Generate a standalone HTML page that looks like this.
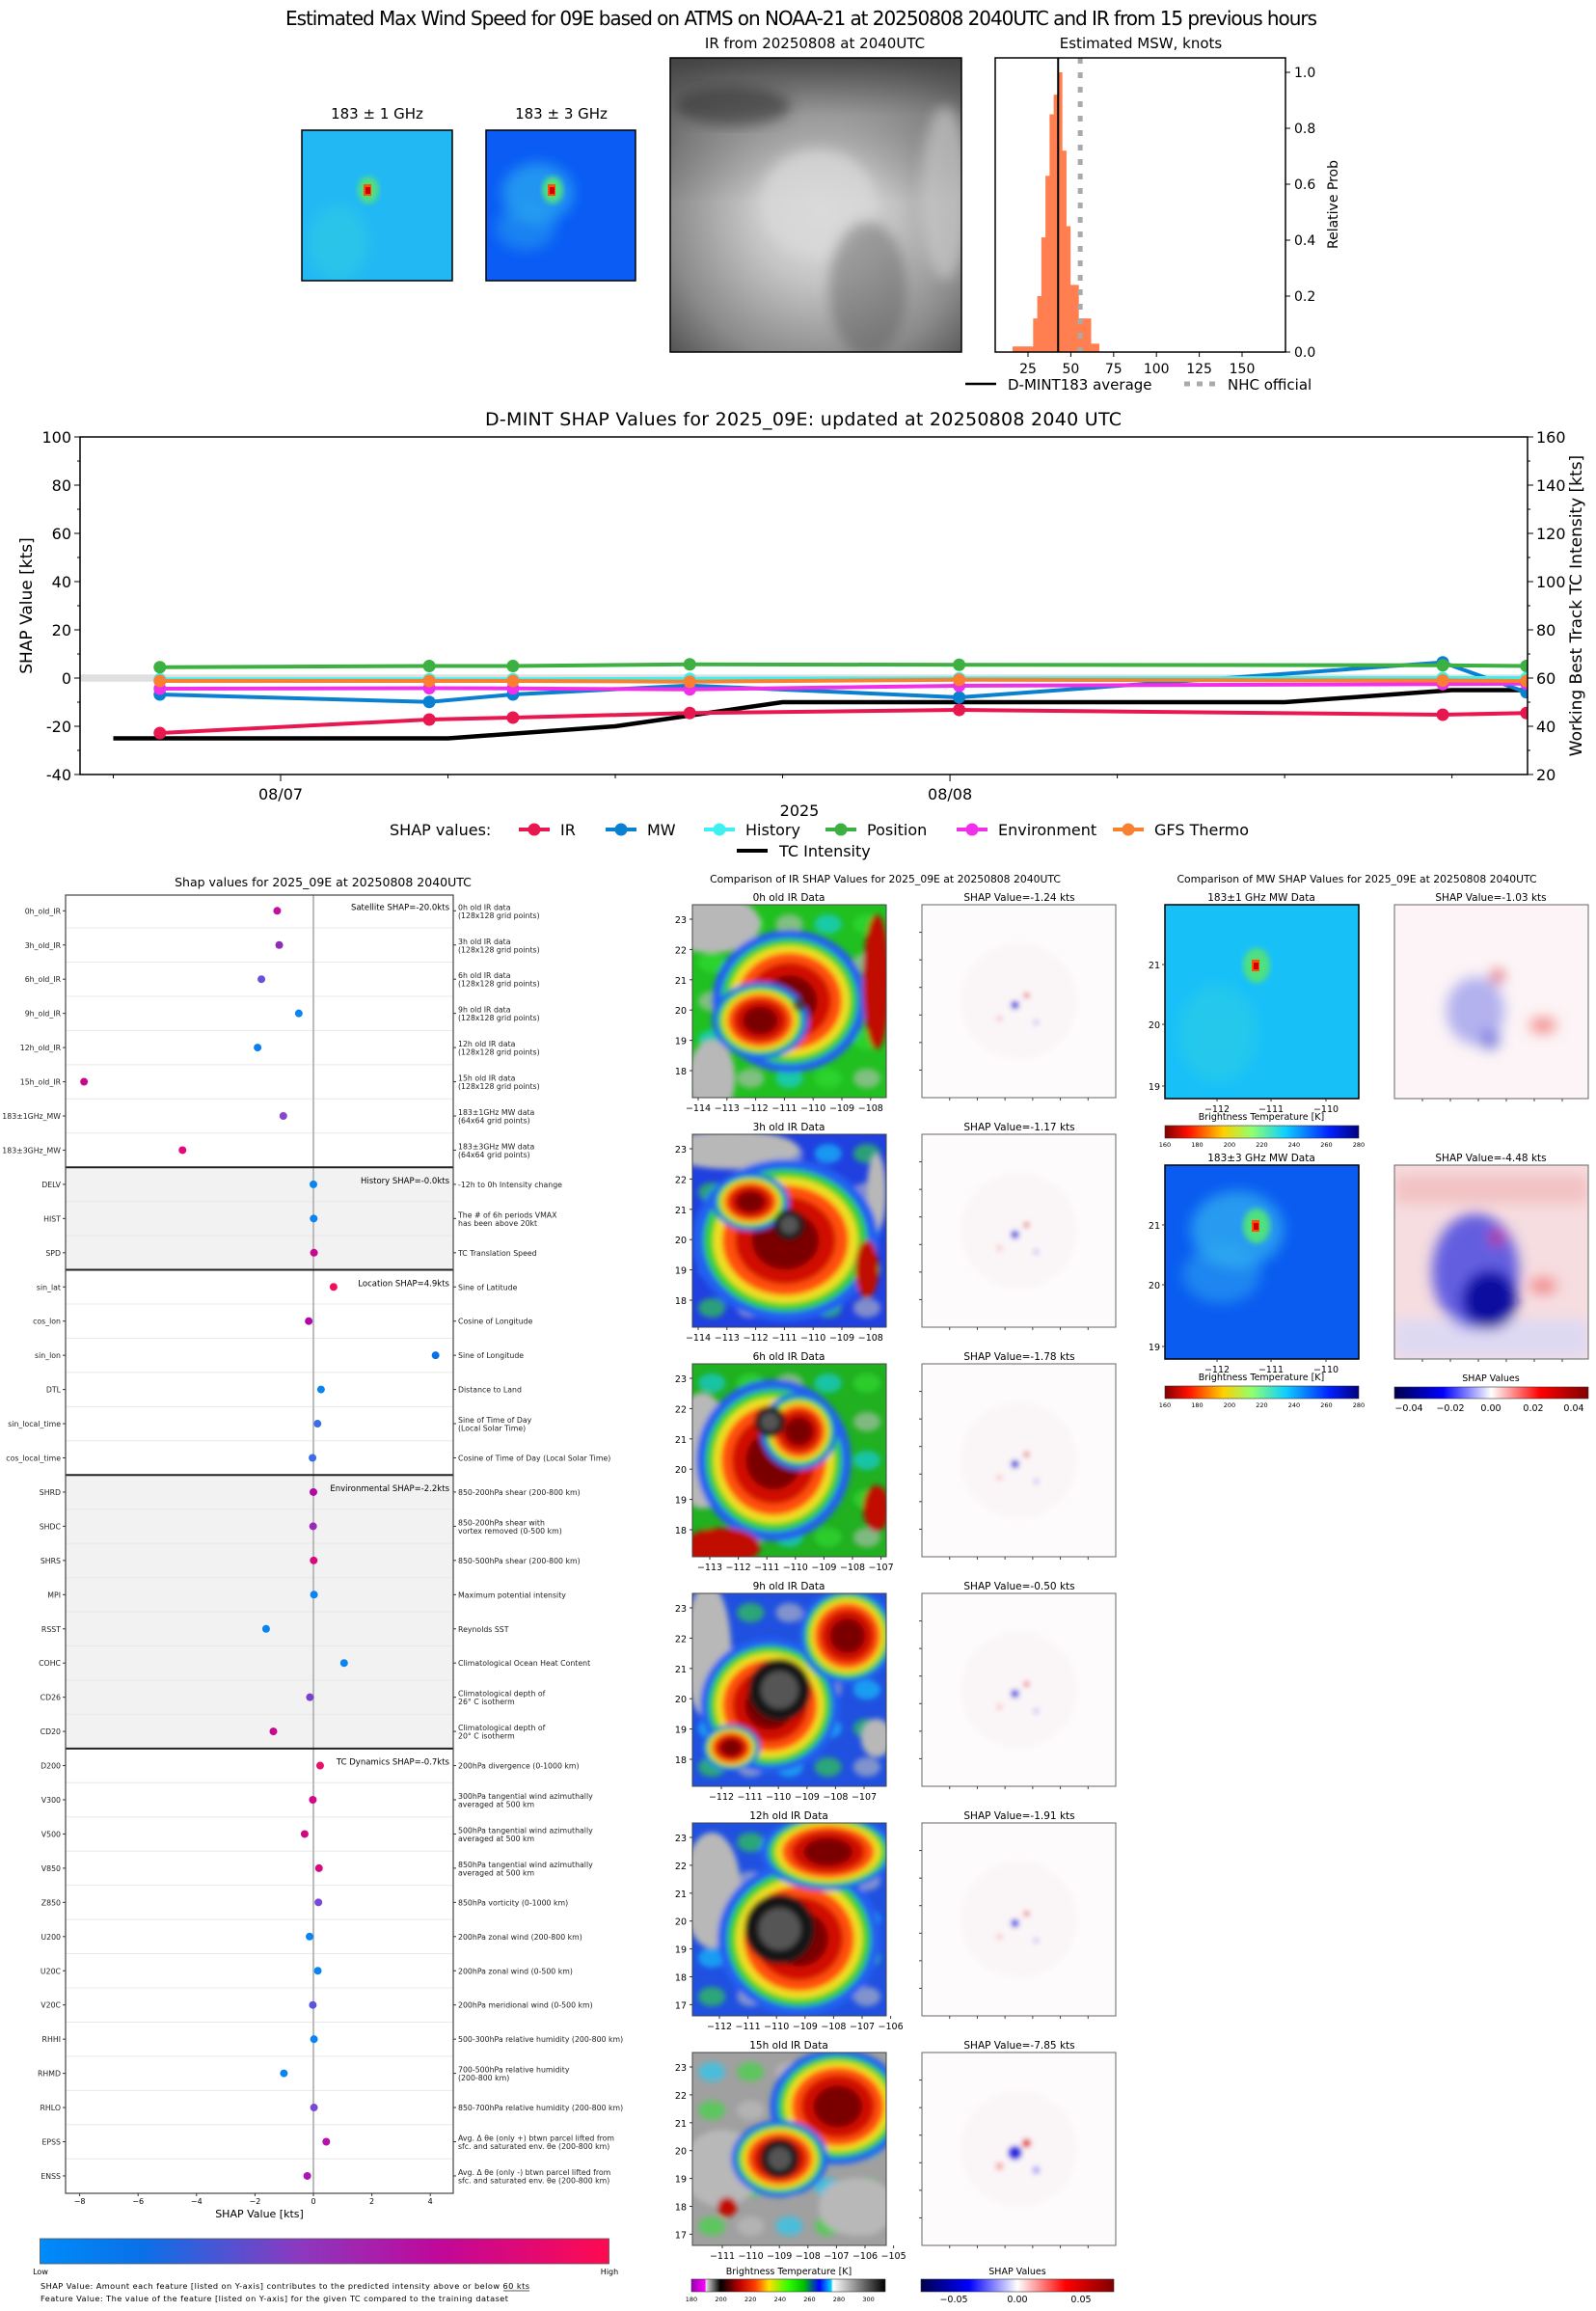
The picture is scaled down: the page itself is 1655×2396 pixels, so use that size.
<!DOCTYPE html>
<html><head><meta charset="utf-8"><style>
html,body{margin:0;padding:0;background:#fff}
svg{display:block;font-family:"DejaVu Sans","Liberation Sans",sans-serif}
</style></head><body>
<svg id="s" width="1655" height="2396" viewBox="0 0 1655 2396" xmlns="http://www.w3.org/2000/svg">
<defs>
<filter id="blur3" x="-10%" y="-10%" width="120%" height="120%"><feGaussianBlur stdDeviation="3"/></filter>
<filter id="blur6" x="-20%" y="-20%" width="140%" height="140%"><feGaussianBlur stdDeviation="7"/></filter>
<radialGradient id="irgray" cx="0.52" cy="0.52" r="0.7"><stop offset="0" stop-color="#e6e6e6"/><stop offset="0.35" stop-color="#c4c4c4"/><stop offset="0.75" stop-color="#8a8a8a"/><stop offset="1" stop-color="#555"/></radialGradient>
<linearGradient id="irtop" x1="0" y1="0" x2="0" y2="1"><stop offset="0" stop-color="#404040" stop-opacity="0.9"/><stop offset="0.4" stop-color="#606060" stop-opacity="0.3"/><stop offset="1" stop-color="#000" stop-opacity="0"/></linearGradient>
<linearGradient id="cbShap" x1="0" x2="1"><stop offset="0" stop-color="#008bfa"/><stop offset="0.18" stop-color="#0a70e8"/><stop offset="0.45" stop-color="#8a3ac0"/><stop offset="0.7" stop-color="#c0089a"/><stop offset="1" stop-color="#ff0a50"/></linearGradient>
<linearGradient id="cbJet" x1="0" x2="1"><stop offset="0" stop-color="#800000"/><stop offset="0.12" stop-color="#ff1000"/><stop offset="0.3" stop-color="#ffd000"/><stop offset="0.45" stop-color="#90ff70"/><stop offset="0.62" stop-color="#10d0ff"/><stop offset="0.85" stop-color="#0020ff"/><stop offset="1" stop-color="#00007f"/></linearGradient>
<linearGradient id="cbSeis" x1="0" x2="1"><stop offset="0" stop-color="#00004c"/><stop offset="0.25" stop-color="#0000ff"/><stop offset="0.5" stop-color="#ffffff"/><stop offset="0.75" stop-color="#ff0000"/><stop offset="1" stop-color="#800000"/></linearGradient>
<linearGradient id="cbIR" x1="0" x2="1"><stop offset="0" stop-color="#9a00b0"/><stop offset="0.07" stop-color="#ff00ff"/><stop offset="0.075" stop-color="#e0e0e0"/><stop offset="0.15" stop-color="#000"/><stop offset="0.25" stop-color="#c00000"/><stop offset="0.33" stop-color="#ff4000"/><stop offset="0.4" stop-color="#ffe000"/><stop offset="0.5" stop-color="#30ff00"/><stop offset="0.58" stop-color="#00c000"/><stop offset="0.66" stop-color="#0000ff"/><stop offset="0.72" stop-color="#00d0ff"/><stop offset="0.73" stop-color="#ffffff"/><stop offset="1" stop-color="#000"/></linearGradient>
</defs>
</svg>
<script>
const S=document.getElementById('s');
const NS='http://www.w3.org/2000/svg';
function mk(tag,at,par){const e=document.createElementNS(NS,tag);for(const k in at)e.setAttribute(k,at[k]);(par||S).appendChild(e);return e;}
function tx(x,y,str,size,anchor,par,extra){const e=mk('text',Object.assign({x:x,y:y,'font-size':size,'text-anchor':anchor||'start',fill:'#000'},extra||{}),par);e.textContent=str;return e;}

/* ================= DATA ================= */
const histBinStart=[16,18.4,20.8,23.2,25.6,28,30.4,32.8,35.2,37.6,40,42.4,44.8,47.2,49.6,52,54.4,56.8,59.2,61.6,64];
const histProb=[0.02,0.02,0.02,0.02,0.02,0.12,0.2,0.41,0.63,0.85,0.92,1.0,0.72,0.45,0.24,0.24,0.12,0.12,0.12,0.03,0.03];
const histBinWidth=2.4;
const dmintAvg=42.6;
const nhcOfficial=55.5;
const histXTicks=[25,50,75,100,125,150];
const histYTicks=[0.0,0.2,0.4,0.6,0.8,1.0];
const shapHours=[-4.33,5.33,8.33,14.67,24.33,41.67,44.67];
const shapIR=[-22.8,-17.2,-16.4,-14.5,-13.2,-15.2,-14.5];
const shapMW=[-6.8,-9.9,-6.8,-3.1,-8.0,6.5,-5.9];
const shapHistory=[-0.5,-0.5,-0.5,-0.3,-0.1,0.0,0.0];
const shapPosition=[4.5,5.0,5.0,5.7,5.5,5.3,5.0];
const shapEnvironment=[-4.4,-4.2,-4.3,-4.7,-3.2,-2.5,-2.3];
const shapGFS=[-1.2,-1.2,-1.2,-1.5,-0.7,-1.0,-1.2];
const tcHours=[-6,6,12,18,36,42,44.67];
const tcIntensity=[35,35,40,50,50,55,55];
const shapYTicks=[-40,-20,0,20,40,60,80,100];
const tcYTicks=[20,40,60,80,100,120,140,160];
const dateTickHours=[0,24];
const dateTickLabels=['08/07','08/08'];
const featNames=['0h_old_IR','3h_old_IR','6h_old_IR','9h_old_IR','12h_old_IR','15h_old_IR','183±1GHz_MW','183±3GHz_MW','DELV','HIST','SPD','sin_lat','cos_lon','sin_lon','DTL','sin_local_time','cos_local_time','SHRD','SHDC','SHRS','MPI','RSST','COHC','CD26','CD20','D200','V300','V500','V850','Z850','U200','U20C','V20C','RHHI','RHMD','RHLO','EPSS','ENSS'];
const featValues=[-1.24,-1.17,-1.78,-0.50,-1.91,-7.85,-1.03,-4.48,0.0,0.01,0.02,0.69,-0.16,4.18,0.26,0.14,-0.03,0.0,-0.01,0.01,0.02,-1.62,1.05,-0.12,-1.37,0.23,-0.02,-0.3,0.19,0.17,-0.13,0.15,-0.02,0.02,-1.01,0.02,0.44,-0.21];
const featColors=['#c4109e','#8e2cb8','#6a4fd8','#0a84f0','#0a7ef0','#c8088a','#8a45d0','#e0087a','#0a84f0','#0a84f0','#c8088e','#f0105a','#b008a8','#0a72e8','#0a84f0','#3d6ce8','#3d6ce8','#b008a0','#9a28b8','#d8087e','#0a84f0','#0a84f0','#0a84f0','#7a40d0','#c8088e','#e81068','#d0088e','#d0087e','#d80880','#7a48d8','#0a84f0','#0a84f0','#5a55e0','#0a84f0','#0a84f0','#7a48d8','#b810a8','#a818b0'];
const featDesc=[['0h old IR data','(128x128 grid points)'],['3h old IR data','(128x128 grid points)'],['6h old IR data','(128x128 grid points)'],['9h old IR data','(128x128 grid points)'],['12h old IR data','(128x128 grid points)'],['15h old IR data','(128x128 grid points)'],['183±1GHz MW data','(64x64 grid points)'],['183±3GHz MW data','(64x64 grid points)'],['-12h to 0h Intensity change'],['The # of 6h periods VMAX','has been above 20kt'],['TC Translation Speed'],['Sine of Latitude'],['Cosine of Longitude'],['Sine of Longitude'],['Distance to Land'],['Sine of Time of Day','(Local Solar Time)'],['Cosine of Time of Day (Local Solar Time)'],['850-200hPa shear (200-800 km)'],['850-200hPa shear with','vortex removed (0-500 km)'],['850-500hPa shear (200-800 km)'],['Maximum potential intensity'],['Reynolds SST'],['Climatological Ocean Heat Content'],['Climatological depth of','26° C isotherm'],['Climatological depth of','20° C isotherm'],['200hPa divergence (0-1000 km)'],['300hPa tangential wind azimuthally','averaged at 500 km'],['500hPa tangential wind azimuthally','averaged at 500 km'],['850hPa tangential wind azimuthally','averaged at 500 km'],['850hPa vorticity (0-1000 km)'],['200hPa zonal wind (200-800 km)'],['200hPa zonal wind (0-500 km)'],['200hPa meridional wind (0-500 km)'],['500-300hPa relative humidity (200-800 km)'],['700-500hPa relative humidity','(200-800 km)'],['850-700hPa relative humidity (200-800 km)'],['Avg. Δ θe (only +) btwn parcel lifted from','sfc. and saturated env. θe (200-800 km)'],['Avg. Δ θe (only -) btwn parcel lifted from','sfc. and saturated env. θe (200-800 km)']];
const sectionStart=[0,8,11,17,25];
const sectionEnd=[8,11,17,25,38];
const sectionLabels=['Satellite SHAP=-20.0kts','History SHAP=-0.0kts','Location SHAP=4.9kts','Environmental SHAP=-2.2kts','TC Dynamics SHAP=-0.7kts'];
const sectionShaded=[false,true,false,true,false];
const featXTicks=[-8,-6,-4,-2,0,2,4];
const irTitles=['0h old IR Data','3h old IR Data','6h old IR Data','9h old IR Data','12h old IR Data','15h old IR Data'];
const irShapTitles=['SHAP Value=-1.24 kts','SHAP Value=-1.17 kts','SHAP Value=-1.78 kts','SHAP Value=-0.50 kts','SHAP Value=-1.91 kts','SHAP Value=-7.85 kts'];
const irLonTicks=[[-114,-108],[-114,-108],[-113,-107],[-112,-107],[-112,-106],[-111,-105]];
const irLatTicks=[[18,23],[18,23],[18,23],[18,23],[17,23],[17,23]];

/* ================= TOP TITLE ================= */
let t;
t=tx(831,26,'Estimated Max Wind Speed for 09E based on ATMS on NOAA-21 at 20250808 2040UTC and IR from 15 previous hours',20,'middle',S,{textLength:1070});


function mwThumb(x,y,w,h,base,patch,cx,cy,name){
  const g=mk('g',{});
  
  const cid='c'+name;const cp=mk('clipPath',{id:cid},g);mk('rect',{x:x,y:y,width:w,height:h},cp);
  const gi=mk('g',{'clip-path':'url(#'+cid+')'},g);
  mk('rect',{x:x,y:y,width:w,height:h,fill:base},gi);
  if(patch){mk('ellipse',{cx:cx-w*0.1,cy:cy+h*0.02,rx:w*0.24,ry:h*0.2,fill:patch,opacity:0.75,filter:'url(#blur6)'},gi);
    mk('ellipse',{cx:cx-w*0.18,cy:cy+h*0.25,rx:w*0.2,ry:h*0.15,fill:patch,opacity:0.5,filter:'url(#blur6)'},gi);}
  else{mk('ellipse',{cx:cx-w*0.2,cy:cy+h*0.35,rx:w*0.2,ry:h*0.25,fill:'#30d0e0',opacity:0.5,filter:'url(#blur6)'},gi);}
  mk('ellipse',{cx:cx,cy:cy,rx:w*0.07,ry:h*0.09,fill:'#50e080',filter:'url(#blur3)'},gi);
  mk('rect',{x:cx-5,y:cy-6,width:8,height:12,fill:'#ff5000'},gi);
  mk('rect',{x:cx-3,y:cy-3,width:5,height:7,fill:'#d00000'},gi);
  mk('rect',{x:x,y:y,width:w,height:h,fill:'none',stroke:'#000','stroke-width':1.5},g);
  return g;
}
mwThumb(313,135,156,156,'#22b8f4',null,382,197,'mw-183-1-thumbnail');
mwThumb(504,135,155,156,'#0a5cf4','#2aa8f0',573,197,'mw-183-3-thumbnail');
t=tx(391,123,'183 ± 1 GHz',15,'middle');
t=tx(582,123,'183 ± 3 GHz',15,'middle');

(function(){
  const g=mk('g',{});
  const cp=mk('clipPath',{id:'cirg'},g);mk('rect',{x:695,y:60,width:302,height:305},cp);
  const gi=mk('g',{'clip-path':'url(#cirg)'},g);
  mk('rect',{x:695,y:60,width:302,height:305,fill:'url(#irgray)'},gi);
  mk('rect',{x:695,y:60,width:302,height:150,fill:'url(#irtop)'},gi);
  mk('ellipse',{cx:848,cy:210,rx:60,ry:55,fill:'#d8d8d8',opacity:0.8,filter:'url(#blur6)'},gi);
  mk('ellipse',{cx:980,cy:200,rx:25,ry:90,fill:'#d0d0d0',opacity:0.6,filter:'url(#blur6)'},gi);
  mk('ellipse',{cx:760,cy:110,rx:60,ry:20,fill:'#303030',opacity:0.6,filter:'url(#blur6)'},gi);
  mk('ellipse',{cx:900,cy:300,rx:40,ry:70,fill:'#505050',opacity:0.4,filter:'url(#blur6)'},gi);
  mk('rect',{x:695,y:60,width:302,height:305,fill:'none',stroke:'#000','stroke-width':1.5},g);
  t=tx(845,50,'IR from 20250808 at 2040UTC',15,'middle');
})();

(function(){
  const L=1032,R=1333,T=60,B=365;
  const xH=k=>1021.6+k*1.776, yH=p=>B-p*290;
  const g=mk('g',{});
  histBinStart.forEach((b,i)=>{const r=mk('rect',{x:xH(b),y:yH(histProb[i]),width:histBinWidth*1.776+0.5,height:B-yH(histProb[i]),fill:'#ff7f50'},g);
    });
  let l=mk('line',{x1:xH(dmintAvg),x2:xH(dmintAvg),y1:T,y2:B,stroke:'#000','stroke-width':2},g);
  
  l=mk('line',{x1:xH(nhcOfficial),x2:xH(nhcOfficial),y1:T,y2:B,stroke:'#aaa','stroke-width':5,'stroke-dasharray':'6,9'},g);
  
  mk('rect',{x:L,y:T,width:R-L,height:B-T,fill:'none',stroke:'#000','stroke-width':1.5},g);
  histXTicks.forEach(v=>{mk('line',{x1:xH(v),x2:xH(v),y1:B,y2:B+5,stroke:'#000'},g);const tt=tx(xH(v),B+22,String(v),14,'middle',g);});
  histYTicks.forEach(v=>{mk('line',{x1:R,x2:R+5,y1:yH(v),y2:yH(v),stroke:'#000'},g);const tt=tx(R+9,yH(v)+5,v.toFixed(1),14,'start',g);});
  t=tx(1183,50,'Estimated MSW, knots',15,'middle');
  t=tx(0,0,'Relative Prob',14,'middle',g,{transform:'translate(1387,212) rotate(-90)'});
  const lg=mk('g',{});
  mk('line',{x1:1001,x2:1033,y1:398,y2:398,stroke:'#000','stroke-width':2.5},lg);
  tx(1045,404,'D-MINT183 average',15,'start',lg);
  mk('line',{x1:1228,x2:1260,y1:398,y2:398,stroke:'#aaa','stroke-width':5,'stroke-dasharray':'6,7'},lg);
  tx(1273,404,'NHC official',15,'start',lg);
})();

/* ================= SHAP TIME SERIES ================= */
(function(){
  const L=83,R=1584,T=453,B=803;
  const xT=h=>291+h*28.92, yL=v=>703-v*2.5, yR=k=>B-(k-20)*2.5;
  const g=mk('g',{});
  t=tx(833,441,'D-MINT SHAP Values for 2025_09E: updated at 20250808 2040 UTC',19,'middle',g,{textLength:660});
  const cp=mk('clipPath',{id:'cts'},g);mk('rect',{x:L,y:T,width:R-L,height:B-T},cp);
  const gi=mk('g',{'clip-path':'url(#cts)'},g);
  mk('rect',{x:L,y:yL(1.5),width:R-L,height:7.5,fill:'#e0e0e0'},gi);
  function series(xs,ys,fn,color,name,marker,w){
    const pts=xs.map((h,i)=>xT(h)+','+fn(ys[i])).join(' ');
    const sg=mk('g',{},gi);
    mk('polyline',{points:pts,fill:'none',stroke:color,'stroke-width':w||4,'stroke-linejoin':'round'},sg);
    if(marker)xs.forEach((h,i)=>{const c=mk('circle',{cx:xT(h),cy:fn(ys[i]),r:6.5,fill:color},sg);});
  }
  series(tcHours,tcIntensity,yR,'#000','tc-intensity-line',false,4.5);
  series(shapHours,shapIR,yL,'#e8174f','ir-series',true);
  series(shapHours,shapMW,yL,'#0a80d0','mw-series',true);
  series(shapHours,shapHistory,yL,'#40f0f0','history-series',true);
  series(shapHours,shapPosition,yL,'#3cb040','position-series',true);
  series(shapHours,shapEnvironment,yL,'#f030e8','environment-series',true);
  series(shapHours,shapGFS,yL,'#f88030','gfs-thermo-series',true);
  mk('rect',{x:L,y:T,width:R-L,height:B-T,fill:'none',stroke:'#000','stroke-width':1.5},g);
  shapYTicks.forEach(v=>{mk('line',{x1:L-6,x2:L,y1:yL(v),y2:yL(v),stroke:'#000'},g);const tt=tx(L-9,yL(v)+6,String(v),16,'end',g);});
  for(let v=-30;v<=90;v+=20)mk('line',{x1:L-3,x2:L,y1:yL(v),y2:yL(v),stroke:'#000'},g);
  tcYTicks.forEach(v=>{mk('line',{x1:R,x2:R+6,y1:yR(v),y2:yR(v),stroke:'#000'},g);const tt=tx(R+9,yR(v)+6,String(v),16,'start',g);});
  for(let v=30;v<=150;v+=20)mk('line',{x1:R,x2:R+3,y1:yR(v),y2:yR(v),stroke:'#000'},g);
  for(let h=-6;h<=42;h+=6)mk('line',{x1:xT(h),x2:xT(h),y1:B,y2:B+(h%24===0?7:4),stroke:'#000'},g);
  dateTickHours.forEach((h,i)=>{const tt=tx(xT(h),B+26,dateTickLabels[i],16,'middle',g);});
  t=tx(829,846,'2025',16,'middle',g);
  t=tx(0,0,'SHAP Value [kts]',17,'middle',g,{transform:'translate(33,628) rotate(-90)'});
  t=tx(0,0,'Working Best Track TC Intensity [kts]',17,'middle',g,{transform:'translate(1640,628) rotate(-90)'});
  const lg=mk('g',{});
  tx(404,866,'SHAP values:',16,'start',lg);
  const items=[['IR','#e8174f',554],['MW','#0a80d0',644],['History','#40f0f0',746],['Position','#3cb040',872],['Environment','#f030e8',1008],['GFS Thermo','#f88030',1170]];
  items.forEach(it=>{const e=mk('g',{},lg);
    mk('line',{x1:it[2]-16,x2:it[2]+16,y1:860,y2:860,stroke:it[1],'stroke-width':4},e);mk('circle',{cx:it[2],cy:860,r:6.5,fill:it[1]},e);tx(it[2]+27,866,it[0],16,'start',e);});
  const e=mk('g',{},lg);
  mk('line',{x1:764,x2:796,y1:882,y2:882,stroke:'#000','stroke-width':4},e);tx(808,888,'TC Intensity',16,'start',e);
})();

/* ================= FEATURE SHAP PANEL ================= */
(function(){
  const L=68,R=470,T=928,B=2274;
  const xF=v=>325+v*30.3, yF=i=>944.3+i*35.45;
  const g=mk('g',{});
  t=tx(335,919,'Shap values for 2025_09E at 20250808 2040UTC',12.5,'middle',g);
  sectionStart.forEach((s,k)=>{
    const y0=k===0?T:yF(s)-17.7, y1=k===4?B:yF(sectionEnd[k])-17.7;
    if(sectionShaded[k])mk('rect',{x:L,y:y0,width:R-L,height:y1-y0,fill:'#f2f2f2'},g);
  });
  for(let i=1;i<38;i++)mk('line',{x1:L,x2:R,y1:yF(i)-17.7,y2:yF(i)-17.7,stroke:'#e8e8e8','stroke-width':1},g);
  mk('line',{x1:xF(0),x2:xF(0),y1:T,y2:B,stroke:'#bbb','stroke-width':2},g);
  sectionStart.forEach((s,k)=>{
    if(k>0)mk('line',{x1:L,x2:R,y1:yF(s)-17.7,y2:yF(s)-17.7,stroke:'#222','stroke-width':2},g);
    const tt=tx(R-4,yF(s)-1,sectionLabels[k],8.5,'end',g);
  });
  featNames.forEach((n,i)=>{
    mk('line',{x1:L-3,x2:L,y1:yF(i),y2:yF(i),stroke:'#333'},g);
    mk('line',{x1:R,x2:R+3,y1:yF(i),y2:yF(i),stroke:'#333'},g);
    const tt=tx(L-5,yF(i)+3,n,7.8,'end',g,{fill:'#222'});
    const d=featDesc[i];
    if(d.length===1){const q=tx(R+5,yF(i)+3,d[0],7.8,'start',g,{fill:'#222'});}
    else{const q=tx(R+5,yF(i)-1,d[0],7.8,'start',g,{fill:'#222'});
      const q2=tx(R+5,yF(i)+7.5,d[1],7.8,'start',g,{fill:'#222'});}
    const c=mk('circle',{cx:xF(featValues[i]),cy:yF(i),r:4,fill:featColors[i]},g);
    
  });
  mk('rect',{x:L,y:T,width:R-L,height:B-T,fill:'none',stroke:'#444','stroke-width':1.2},g);
  featXTicks.forEach(v=>{mk('line',{x1:xF(v),x2:xF(v),y1:B,y2:B+3,stroke:'#333'},g);const tt=tx(xF(v),B+11,(v<0?'−':'')+Math.abs(v),8,'middle',g);});
  t=tx(269,2299,'SHAP Value [kts]',11,'middle',g);
  const cb=mk('rect',{x:41.5,y:2321,width:590,height:26,fill:'url(#cbShap)',stroke:'#555','stroke-width':0.8});
  
  tx(42,2358,'Low',8,'middle');tx(632,2358,'High',8,'middle');
  t=tx(42,2373,'SHAP Value: Amount each feature [listed on Y-axis] contributes to the predicted intensity above or below 60 kts',8.2,'start',S,{textLength:507});
  mk('line',{x1:522,x2:549,y1:2375,y2:2375,stroke:'#222','stroke-width':0.8});
  t=tx(42,2386,'Feature Value: The value of the feature [listed on Y-axis] for the given TC compared to the training dataset',8.2,'start',S,{textLength:485});
})();

/* ================= IR COMPARISON PANELS ================= */
const irSpecs=[
 {bg:'#20c020',blobs:[[0.5,0.5,0.4,0.37],[0.35,0.6,0.25,0.2]],core:[0.55,0.52,0.03],gray:[[0.1,0.1,0.25,0.15],[0.1,0.9,0.12,0.2]],red:[[0.95,0.4,0.07,0.35]]},
 {bg:'#2040e0',blobs:[[0.48,0.55,0.48,0.42],[0.3,0.35,0.2,0.15]],core:[0.5,0.47,0.08],gray:[[0.2,0.08,0.35,0.1],[0.95,0.3,0.05,0.2]],red:[[0.9,0.7,0.06,0.15]]},
 {bg:'#20b020',blobs:[[0.42,0.5,0.4,0.42],[0.55,0.35,0.2,0.2]],core:[0.4,0.3,0.08],gray:[[0.05,0.45,0.15,0.3]],red:[[0.95,0.75,0.07,0.12],[0.15,0.95,0.2,0.1]]},
 {bg:'#2050e0',blobs:[[0.4,0.58,0.36,0.35],[0.8,0.22,0.25,0.25],[0.2,0.8,0.15,0.12]],core:[0.45,0.5,0.16],gray:[[0.08,0.3,0.12,0.35],[0.95,0.75,0.08,0.1]],red:[]},
 {bg:'#2050e0',blobs:[[0.55,0.6,0.42,0.4],[0.7,0.15,0.35,0.2]],core:[0.45,0.55,0.18],gray:[[0.1,0.35,0.15,0.3]],red:[]},
 {bg:'#a0a0a0',blobs:[[0.75,0.28,0.35,0.3],[0.45,0.55,0.25,0.2]],core:[0.45,0.55,0.1],gray:[[0.15,0.6,0.2,0.2],[0.85,0.8,0.2,0.15]],red:[[0.18,0.8,0.05,0.05]]}
];
const rowTop=[938,1176,1414,1652,1890,2128];
function irImage(x,y,w,h,sp,idx){
  const g=mk('g',{});
  const cid='cir'+idx;const cp=mk('clipPath',{id:cid},g);mk('rect',{x:x,y:y,width:w,height:h},cp);
  const gi=mk('g',{'clip-path':'url(#'+cid+')'},g);
  mk('rect',{x:x,y:y,width:w,height:h,fill:sp.bg},gi);
  const bl=mk('g',{filter:'url(#blur3)'},gi);
  for(let a=0;a<5;a++)for(let b=0;b<5;b++){mk('ellipse',{cx:x+w*(0.1+a*0.2),cy:y+h*(0.1+b*0.2),rx:w*0.07,ry:h*0.05,fill:(a+b)%3===0?'#10d0ff':((a+b)%3===1?'#30e030':'#c0c0c0'),opacity:0.6},bl);}
  sp.gray.forEach(q=>mk('ellipse',{cx:x+w*q[0],cy:y+h*q[1],rx:w*q[2],ry:h*q[3],fill:'#b8b8b8'},bl));
  const levels=[[1.0,'#2060f0'],[0.88,'#30d030'],[0.78,'#f0e020'],[0.68,'#ff5010'],[0.54,'#d01000'],[0.36,'#7a0000']];
  sp.blobs.forEach(q=>levels.forEach(l=>mk('ellipse',{cx:x+w*q[0],cy:y+h*q[1],rx:w*q[2]*l[0],ry:h*q[3]*l[0],fill:l[1]},bl)));
  sp.red.forEach(q=>mk('ellipse',{cx:x+w*q[0],cy:y+h*q[1],rx:w*q[2],ry:h*q[3],fill:'#c01000'},bl));
  const c=sp.core;mk('circle',{cx:x+w*c[0],cy:y+h*c[1],r:w*c[2],fill:'#151515'},bl);
  mk('circle',{cx:x+w*c[0],cy:y+h*c[1],r:w*c[2]*0.6,fill:'#555'},bl);
  mk('rect',{x:x,y:y,width:w,height:h,fill:'none',stroke:'#444','stroke-width':1},g);
}
function shapImage(x,y,w,h,idx,strength){
  const g=mk('g',{});
  mk('rect',{x:x,y:y,width:w,height:h,fill:'#fdfbfb',stroke:'#666','stroke-width':1},g);
  const bl=mk('g',{filter:'url(#blur3)'},g);
  const cx=x+w*0.5,cy=y+h*0.5;
  mk('ellipse',{cx:cx,cy:cy,rx:w*0.3,ry:h*0.3,fill:'#f4e8f0',opacity:0.3},bl);
  mk('circle',{cx:cx-4,cy:cy+4,r:3+strength,fill:'#2020e0'},bl);
  mk('circle',{cx:cx+8,cy:cy-6,r:2+strength*0.6,fill:'#e02020'},bl);
  mk('circle',{cx:cx-20,cy:cy+18,r:2+strength*0.5,fill:'#f06060',opacity:0.6},bl);
  mk('circle',{cx:cx+18,cy:cy+22,r:2+strength*0.5,fill:'#6060f0',opacity:0.6},bl);
  for(let i=1;i<7;i++){mk('line',{x1:x+w*i/7,x2:x+w*i/7,y1:y+h,y2:y+h+3,stroke:'#444'},g);mk('line',{x1:x-3,x2:x,y1:y+h*i/7,y2:y+h*i/7,stroke:'#444'},g);}
}
t=tx(918,915,'Comparison of IR SHAP Values for 2025_09E at 20250808 2040UTC',10.8,'middle');
rowTop.forEach((y,i)=>{
  irImage(718,y,201,200,irSpecs[i],i);
  shapImage(956,y,201,200,i,i===5?4:1);
  let q=tx(818,y-4,irTitles[i],10.5,'middle');
  q=tx(1057,y-4,irShapTitles[i],10.5,'middle');
  const lt=irLatTicks[i];const nlat=lt[1]-lt[0];
  const latTop=y+15, latStep=(i>=4?28.9:31.4);
  for(let k=0;k<=nlat;k++){const v=lt[1]-k;const yy=latTop+k*latStep;mk('line',{x1:715,x2:718,y1:yy,y2:yy,stroke:'#333'});const z=tx(712,yy+4,String(v),9.5,'end');}
  const ln=irLonTicks[i];const n=ln[1]-ln[0];const x0=i===0||i===1?724:(i===2?736:(i===3?748:(i===4?746:749)));const step=i<2?29.8:29.6;
  for(let k=0;k<=n;k++){const xx=x0+k*step;mk('line',{x1:xx,x2:xx,y1:y+200,y2:y+203,stroke:'#333'});const z=tx(xx,y+214,'−'+Math.abs(ln[0]+k),9.5,'middle');}
});
(function(){
  const r=mk('rect',{x:717,y:2363,width:201,height:13,fill:'url(#cbIR)',stroke:'#333','stroke-width':0.6});
  tx(818,2358,'Brightness Temperature [K]',9.5,'middle');
  [180,200,220,240,260,280,300].forEach((v,i)=>tx(717+i*30.6,2386,String(v),6.5,'middle'));
  const s=mk('rect',{x:955,y:2363,width:200,height:13,fill:'url(#cbSeis)',stroke:'#333','stroke-width':0.6});
  tx(1055,2358,'SHAP Values',9.5,'middle');
  [['−0.05',989],['0.00',1055],['0.05',1121]].forEach(a=>tx(a[1],2387,a[0],9.5,'middle'));
})();

/* ================= MW COMPARISON ================= */
t=tx(1407,915,'Comparison of MW SHAP Values for 2025_09E at 20250808 2040UTC',10.8,'middle');
const mwRows=[{y:938,title:'183±1 GHz MW Data',shap:'SHAP Value=-1.03 kts',base:'#18c0f8',patch:null},{y:1208,title:'183±3 GHz MW Data',shap:'SHAP Value=-4.48 kts',base:'#0a5cf0',patch:'#30b0f0'}];
mwRows.forEach((r,i)=>{
  mwThumb(1208,r.y,201,201,r.base,r.patch,1303,r.y+63,'mw-data-image-'+i);
  let q=tx(1308,r.y-4,r.title,10.5,'middle');
  q=tx(1546,r.y-4,r.shap,10.5,'middle');
  const g=mk('g',{});
  const cid='cmw'+i;const cp=mk('clipPath',{id:cid},g);mk('rect',{x:1446,y:r.y,width:201,height:201},cp);
  const gi=mk('g',{'clip-path':'url(#'+cid+')'},g);
  mk('rect',{x:1446,y:r.y,width:201,height:201,fill:i?'#f6dde0':'#fcf4f6'},gi);
  const bl=mk('g',{filter:'url(#blur6)'},gi);
  if(i===1){mk('rect',{x:1446,y:r.y+10,width:201,height:30,fill:'#f0b0b0',opacity:0.6},bl);mk('rect',{x:1446,y:r.y+160,width:201,height:40,fill:'#d8d8f8',opacity:0.8},bl);}
  mk('ellipse',{cx:1530,cy:r.y+110,rx:i?45:30,ry:i?60:35,fill:i?'#4040e0':'#a0a0ec',opacity:0.8},bl);
  mk('ellipse',{cx:1545,cy:r.y+140,rx:i?28:10,ry:i?30:10,fill:i?'#1010a0':'#8080e0'},bl);
  mk('circle',{cx:1552,cy:r.y+75,r:6,fill:'#d01010'},bl);
  mk('ellipse',{cx:1600,cy:r.y+125,rx:14,ry:8,fill:'#f07070',opacity:0.8},bl);
  mk('rect',{x:1446,y:r.y,width:201,height:201,fill:'none',stroke:'#666','stroke-width':1},g);
  for(let k=1;k<7;k++)mk('line',{x1:1446+k*29,x2:1446+k*29,y1:r.y+201,y2:r.y+204,stroke:'#444'});
  [[21,1000],[20,1062],[19,1126]].forEach(a=>{const yy=a[1]+(r.y-938);mk('line',{x1:1205,x2:1208,y1:yy,y2:yy,stroke:'#333'});tx(1203,yy+4,String(a[0]),9.5,'end');});
  [[-112,1262],[-111,1318],[-110,1375]].forEach(a=>{mk('line',{x1:a[1],x2:a[1],y1:r.y+201,y2:r.y+204,stroke:'#333'});tx(a[1],r.y+215,'−'+Math.abs(a[0]),9.5,'middle');});
  const cy=r.y+229;
  const cb=mk('rect',{x:1208,y:cy,width:201,height:13,fill:'url(#cbJet)',stroke:'#333','stroke-width':0.6});
  tx(1308,cy-6,'Brightness Temperature [K]',9.5,'middle');
  [160,180,200,220,240,260,280].forEach((v,k)=>tx(1208+k*33.5,cy+22,String(v),6.5,'middle'));
});
(function(){
  const s=mk('rect',{x:1446,y:1438,width:201,height:12,fill:'url(#cbSeis)',stroke:'#333','stroke-width':0.6});
  tx(1546,1432,'SHAP Values',9.5,'middle');
  [['−0.04',1461],['−0.02',1504],['0.00',1546],['0.02',1590],['0.04',1632]].forEach(a=>tx(a[1],1463,a[0],9.5,'middle'));
})();
</script>
</body></html>
